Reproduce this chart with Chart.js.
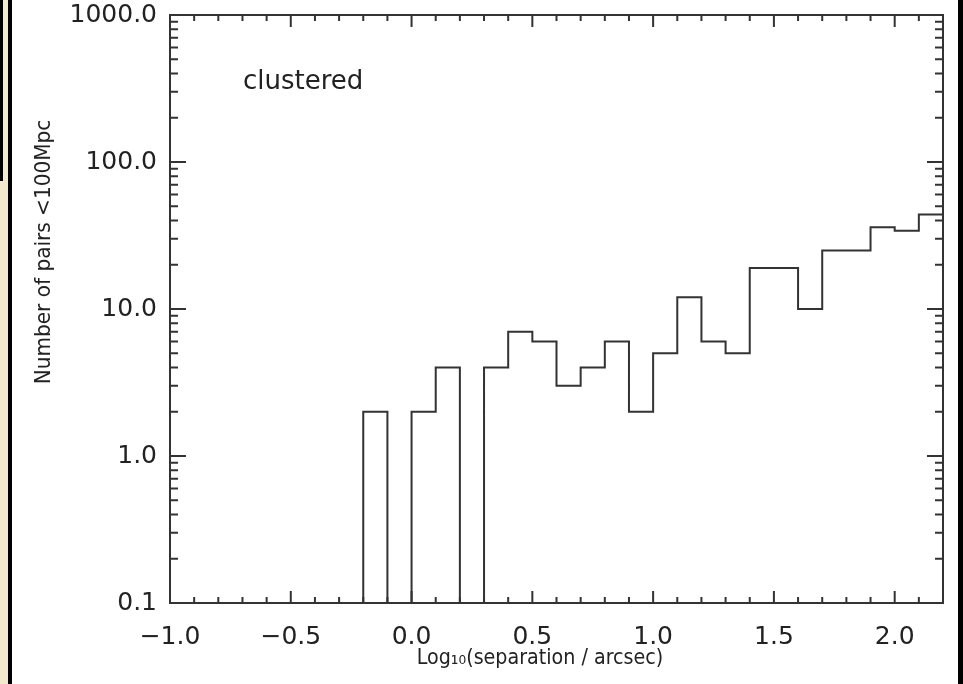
<!DOCTYPE html>
<html>
<head>
<meta charset="utf-8">
<script src="https://cdn.jsdelivr.net/npm/chart.js@4.4.1/dist/chart.umd.min.js"></script>
<style>
  html, body { margin: 0; padding: 0; background: #fff; }
  #wrap { width: 963px; height: 684px; }
</style>
</head>
<body>
<div id="wrap"><canvas id="myChart" width="963" height="684"></canvas></div>
<script>
// histogram bins (left edge) and counts
var binStart = [-1.0, -0.9, -0.8, -0.7, -0.6, -0.5, -0.4, -0.3,
                -0.2, -0.1, 0.0, 0.1, 0.2, 0.3, 0.4, 0.5,
                0.6, 0.7, 0.8, 0.9, 1.0, 1.1, 1.2, 1.3,
                1.4, 1.5, 1.6, 1.7, 1.8, 1.9, 2.0, 2.1];
var pairCounts = [0, 0, 0, 0, 0, 0, 0, 0,
                  2, 0, 2, 4, 0, 4, 7, 6,
                  3, 4, 6, 2, 5, 12, 6, 5,
                  19, 19, 10, 25, 25, 36, 34, 44];
var binWidth = 0.1;

var xTickLabels = [-1.0, -0.5, 0.0, 0.5, 1.0, 1.5, 2.0];
var yTickLabels = [0.1, 1, 10, 100, 1000];

var xTitle = 'Log\u2081\u2080(separation / arcsec)';
var yTitle = 'Number of pairs <100Mpc';
var panelLabel = 'clustered';

var textColor = '#222';
var lineColor = '#333';
var fontFamily = '"DejaVu Sans", sans-serif';

// step points: left edges + closing right edge
var points = [];
for (var i = 0; i < binStart.length; i++)
	points.push({x: binStart[i], y: pairCounts[i]});
points.push({x: binStart[binStart.length - 1] + binWidth, y: pairCounts[pairCounts.length - 1]});

// text squeezed a little along its run to fit the original widths
function squeezedText(ctx, text, x, y, rot, size, squeeze) {
	ctx.save();
	ctx.translate(x, y);
	ctx.rotate(rot);
	ctx.scale(squeeze, 1);
	ctx.font = size + 'px ' + fontFamily;
	ctx.textAlign = 'center';
	ctx.textBaseline = 'middle';
	ctx.fillText(text, 0, 0);
	ctx.restore();
}

// page frame (beige / black strips) + axis box with inward ticks
var framePlugin = {
	id: 'frame',
	beforeDraw: function(chart) {
		var ctx = chart.ctx;
		ctx.save();
		ctx.fillStyle = '#fff';
		ctx.fillRect(0, 0, chart.width, chart.height);
		ctx.fillStyle = '#f3e9cd';
		ctx.fillRect(0, 0, 8, chart.height);
		ctx.fillStyle = '#000';
		ctx.fillRect(0, 0, 3, 181);
		ctx.fillRect(8, 0, 4, chart.height);
		ctx.fillRect(958, 0, 5, chart.height);
		ctx.restore();
	},
	afterDraw: function(chart) {
		var ctx = chart.ctx;
		var a = chart.chartArea;
		var xs = chart.scales.x, ys = chart.scales.y;
		ctx.save();
		ctx.strokeStyle = lineColor;
		ctx.lineWidth = 2;
		ctx.strokeRect(a.left, a.top, a.right - a.left, a.bottom - a.top);

		ctx.beginPath();
		//x ticks, every 0.1, major every 0.5
		for (var k = -10; k <= 22; k++) {
			var px = xs.getPixelForValue(k / 10);
			var len = (k % 5 === 0) ? 12 : 6;
			ctx.moveTo(px, a.bottom); ctx.lineTo(px, a.bottom - len);
			ctx.moveTo(px, a.top); ctx.lineTo(px, a.top + len);
		}
		//y ticks, log minor 2..9 in every decade
		for (var d = 0; d < yTickLabels.length; d++) {
			for (var m = 1; m <= 9; m++) {
				var v = yTickLabels[d] * m;
				if (v > yTickLabels[yTickLabels.length - 1]) break;
				var py = ys.getPixelForValue(v);
				var l = (m === 1) ? 16 : 8;
				ctx.moveTo(a.left, py); ctx.lineTo(a.left + l, py);
				ctx.moveTo(a.right, py); ctx.lineTo(a.right - l, py);
			}
		}
		ctx.stroke();

		ctx.fillStyle = textColor;
		ctx.textBaseline = 'middle';
		ctx.textAlign = 'left';
		ctx.font = '26px ' + fontFamily;
		ctx.fillText(panelLabel, a.left + 73, a.top + 67);

		//axis titles (IDL puts them a bit off-centre)
		squeezedText(ctx, xTitle, 540, 659, 0, 21, 0.91);
		squeezedText(ctx, yTitle, 45, 252, -Math.PI / 2, 21, 0.955);

		ctx.restore();
	}
};

var ctx = document.getElementById('myChart').getContext('2d');
var myChart = new Chart(ctx, {
	type: 'line',
	data: {
		datasets: [{
			data: points,
			parsing: false,
			stepped: 'before',
			borderColor: lineColor,
			borderWidth: 2,
			pointRadius: 0,
			fill: false
		}]
	},
	options: {
		responsive: false,
		animation: false,
		layout: { padding: { left: 0, top: 15, right: 20, bottom: 0 } },
		plugins: { legend: { display: false }, tooltip: { enabled: false } },
		scales: {
			x: {
				type: 'linear',
				min: -1.0,
				max: 2.2,
				grid: { display: false, drawTicks: false },
				border: { display: false },
				afterBuildTicks: function(scale) {
					scale.ticks = xTickLabels.map(function(v) { return {value: v}; });
				},
				afterFit: function(scale) {
					scale.height = 81;
					scale.paddingLeft = 0;
					scale.paddingRight = 0;
				},
				ticks: {
					padding: 19,
					color: textColor,
					maxRotation: 0,
					autoSkip: false,
					font: { family: fontFamily, size: 25 },
					callback: function(v) {
						return (v < 0 ? '\u2212' : '') + Math.abs(v).toFixed(1);
					}
				}
			},
			y: {
				type: 'logarithmic',
				min: 0.1,
				max: 1000,
				grid: { display: false, drawTicks: false },
				border: { display: false },
				afterBuildTicks: function(scale) {
					scale.ticks = yTickLabels.map(function(v) { return {value: v}; });
				},
				afterFit: function(scale) {
					scale.width = 170;
					scale.paddingTop = 0;
					scale.paddingBottom = 0;
				},
				ticks: {
					padding: 13,
					color: textColor,
					autoSkip: false,
					font: { family: fontFamily, size: 25 },
					callback: function(v) { return Number(v).toFixed(1); }
				}
			}
		}
	},
	plugins: [framePlugin]
});
</script>
</body>
</html>
